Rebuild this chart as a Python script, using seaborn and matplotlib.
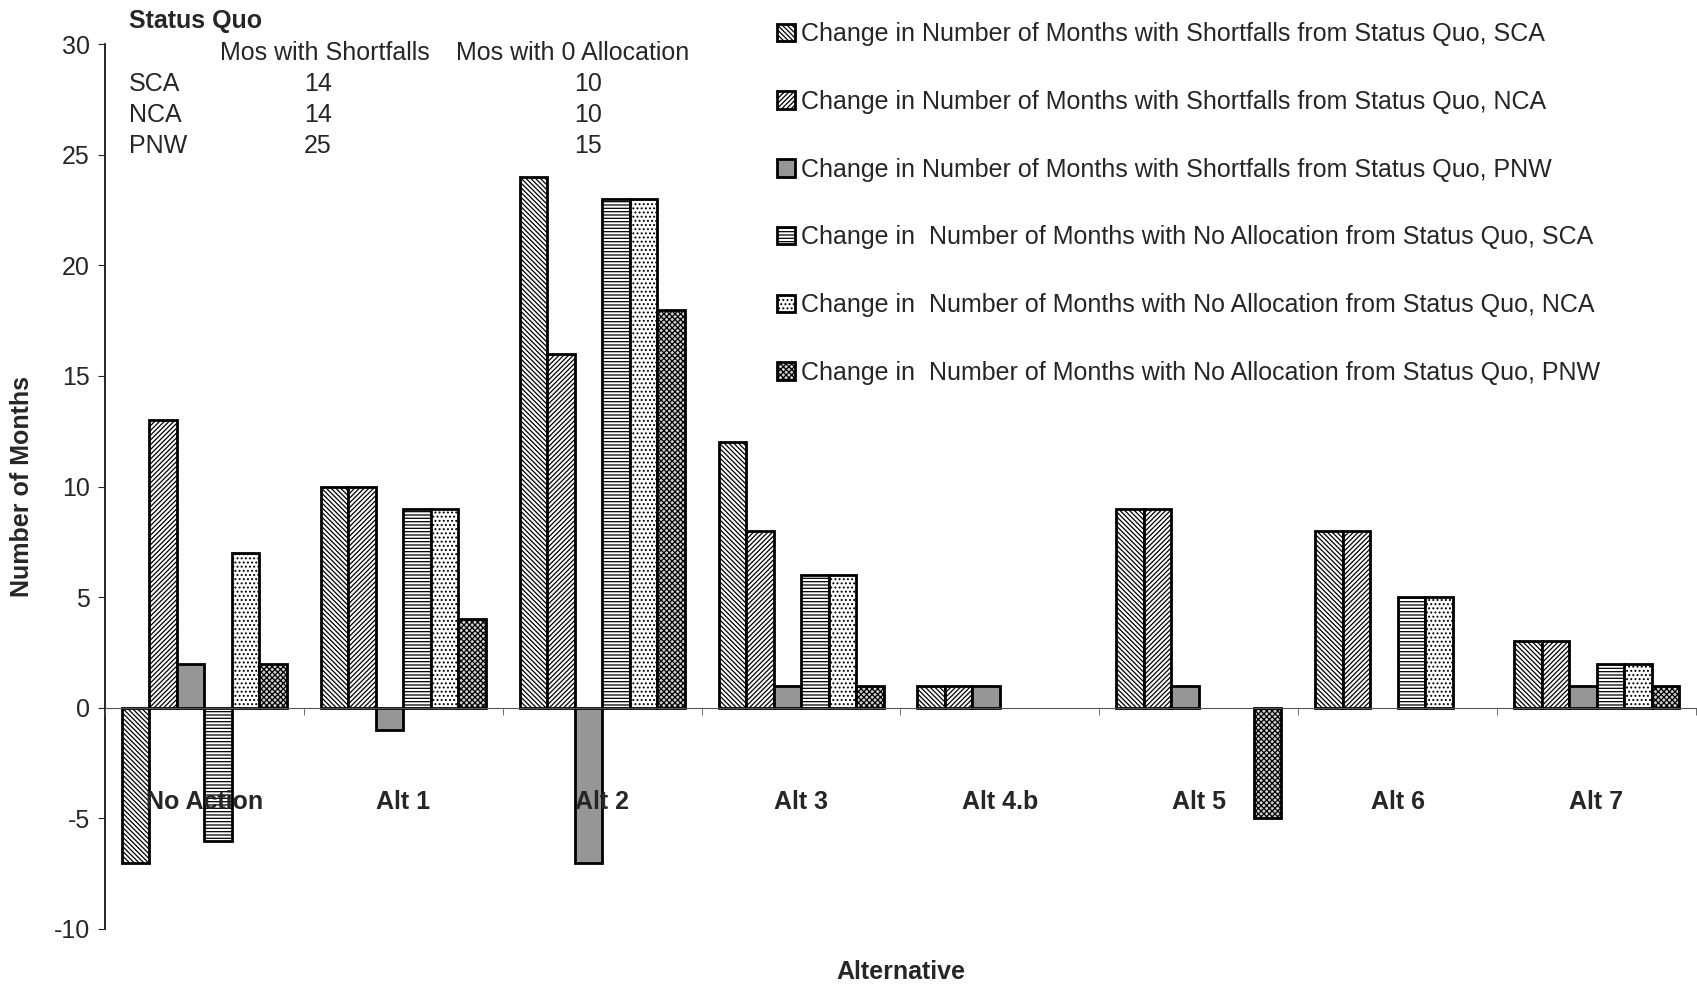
import pandas as pd
import matplotlib.pyplot as plt
import seaborn as sns

# categories and series
alternatives = ["No Action", "Alt 1", "Alt 2", "Alt 3", "Alt 4.b", "Alt 5", "Alt 6", "Alt 7"]
series = [
    "Change in Number of Months with Shortfalls from Status Quo, SCA",
    "Change in Number of Months with Shortfalls from Status Quo, NCA",
    "Change in Number of Months with Shortfalls from Status Quo, PNW",
    "Change in  Number of Months with No Allocation from Status Quo, SCA",
    "Change in  Number of Months with No Allocation from Status Quo, NCA",
    "Change in  Number of Months with No Allocation from Status Quo, PNW",
]
short_sca = [-7, 10, 24, 12, 1, 9, 8, 3]
short_nca = [13, 10, 16, 8, 1, 9, 8, 3]
short_pnw = [2, -1, -7, 1, 1, 1, 0, 1]
noalloc_sca = [-6, 9, 23, 6, 0, 0, 5, 2]
noalloc_nca = [7, 9, 23, 6, 0, 0, 5, 2]
noalloc_pnw = [2, 4, 18, 1, 0, -5, 0, 1]

# status quo table
sq_regions = ["SCA", "NCA", "PNW"]
sq_shortfalls = [14, 14, 25]
sq_zero_alloc = [10, 10, 15]

values = [short_sca, short_nca, short_pnw, noalloc_sca, noalloc_nca, noalloc_pnw]
rows = []
for name, vals in zip(series, values):
    for alt, v in zip(alternatives, vals):
        rows.append({"alternative": alt, "series": name, "months": v})
df = pd.DataFrame(rows)

sns.set_style("white")
plt.rcParams["font.family"] = ["Liberation Sans", "DejaVu Sans"]
plt.rcParams["hatch.linewidth"] = 0.9
plt.rcParams["axes.unicode_minus"] = False

W, H = 1697, 984
fig = plt.figure(figsize=(W / 100, H / 100), dpi=100)
ax = fig.add_axes([105 / W, 1 - 929 / H, (1696 - 105) / W, (929 - 44) / H])

face = ["white", "white", "#969696", "white", "white", "#d0d0d0"]
hatches = ["\\\\\\\\\\\\\\", "///////", "", "-----", "....", "xxxxxx"]

sns.barplot(data=df, x="alternative", y="months", hue="series",
            hue_order=series, order=alternatives,
            palette=dict(zip(series, face)), width=0.83,
            saturation=1, legend=False, ax=ax)

for cont, h in zip(ax.containers, hatches):
    for p in cont.patches:
        p.set_hatch(h)
        p.set_edgecolor("black")
        p.set_linewidth(2.0)
        if p.get_height() == 0:
            p.set_visible(False)

ax.set_axisbelow(False)
ax.set_ylim(-10, 30)
ax.set_xlim(-0.5, 7.5)
ax.set_yticks(range(-10, 31, 5))

for s in ["top", "right"]:
    ax.spines[s].set_visible(False)
ax.spines["bottom"].set_position(("data", 0))
ax.spines["bottom"].set_color("#555555")
ax.spines["left"].set_color("black")
ax.spines["left"].set_linewidth(1.2)

ax.set_xticks(range(len(alternatives)))
ax.set_xticklabels(alternatives, fontsize=18, fontweight="bold")
ax.set_xticks([i - 0.5 for i in range(len(alternatives) + 1)], minor=True)
ax.tick_params(axis="x", which="major", length=0, pad=59)
ax.tick_params(axis="x", which="minor", direction="out", length=5, color="#555555", bottom=True)
ax.tick_params(axis="y", direction="out", length=5, left=True, labelsize=18, pad=6)

ax.set_xlabel("Alternative", fontsize=18, fontweight="bold")
ax.xaxis.set_label_coords(0.5, -0.049)
ax.xaxis.label.set_va("center")
ax.set_ylabel("Number of Months", fontsize=18, fontweight="bold", labelpad=14)

# legend
ax.legend(ax.containers, series, loc="upper left",
          bbox_to_anchor=(777 / W, 1 - 22 / H), bbox_transform=fig.transFigure,
          frameon=False, fontsize=18, handlelength=0.7, handleheight=0.7,
          handletextpad=0.25, labelspacing=1.75, borderpad=0, borderaxespad=0)

# status quo table
def px(x, y):
    return x / W, 1 - y / H

fig.text(*px(129, 21), "Status Quo", fontsize=18, fontweight="bold", va="center")
fig.text(*px(220, 53), "Mos with Shortfalls", fontsize=18, va="center")
fig.text(*px(456, 53), "Mos with 0 Allocation", fontsize=18, va="center")
for i, (reg, a, b) in enumerate(zip(sq_regions, sq_shortfalls, sq_zero_alloc)):
    y = 84 + i * 31
    fig.text(*px(129, y), reg, fontsize=18, va="center")
    fig.text(*px(318, y), str(a), fontsize=18, va="center", ha="center")
    fig.text(*px(588, y), str(b), fontsize=18, va="center", ha="center")

fig.savefig("out.png", dpi=100)
